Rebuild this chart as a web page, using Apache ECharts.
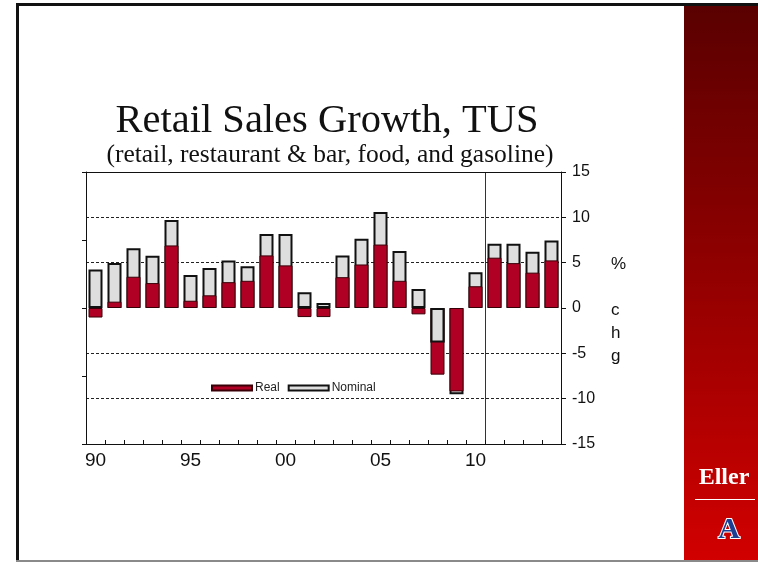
<!DOCTYPE html>
<html>
<head>
<meta charset="utf-8">
<script src="https://cdn.jsdelivr.net/npm/echarts@6/dist/echarts.min.js"></script>
<style>
html,body{margin:0;padding:0;background:#fff;}
#chart{width:758px;height:562px;}
</style>
</head>
<body>
<div id="chart"></div>
<script>
// ---- data ----
var years = ['1990','1991','1992','1993','1994','1995','1996','1997','1998','1999','2000','2001','2002','2003','2004','2005','2006','2007','2008','2009','2010','2011','2012','2013','2014'];
var realGrowth    = [-1.05, 0.7, 3.45, 2.75, 6.9, 0.8, 1.4, 2.85, 3.0, 5.8, 4.7, -1.0, -1.0, 3.4, 4.8, 7.0, 3.0, -0.7, -7.35, -9.2, 2.4, 5.55, 4.95, 3.9, 5.25];
var nominalGrowth = [4.25, 4.95, 6.6, 5.75, 9.7, 3.65, 4.4, 5.25, 4.6, 8.15, 8.15, 1.75, 0.55, 5.8, 7.65, 10.6, 6.3, 2.1, -3.8, -9.5, 3.95, 7.1, 7.1, 6.2, 7.45];
var forecastStartIndex = 21; // 2011 onward separated by a vertical line
var yTicks = {min: -15, max: 15, step: 5};
var titleText = 'Retail Sales Growth, TUS';
var subtitleText = '(retail, restaurant & bar, food, and gasoline)';
var unitLabel = ['%', '', 'c', 'h', 'g'];

// nominal values that lie inside a larger real bar of the same sign are drawn in front
var nominalFront = nominalGrowth.map(function (v, i) {
  var r = realGrowth[i];
  return (v * r > 0 && Math.abs(v) < Math.abs(r)) ? v : '-';
});

var RED = '#b00024';
var GRAY = '#dedede';

var chart = echarts.init(document.getElementById('chart'));
var splitColors = [];
for (var t = yTicks.min; t <= yTicks.max; t += yTicks.step) {
  splitColors.push((t === 0 || t === yTicks.min || t === yTicks.max) ? 'rgba(0,0,0,0)' : '#222');
}

chart.setOption({
  backgroundColor: '#fff',
  animation: false,
  title: [
    {text: titleText, left: 322, top: 96, textAlign: 'center',
     textStyle: {fontFamily: 'Liberation Serif', fontSize: 40.5, fontWeight: 'normal', color: '#111'}},
    {text: subtitleText, left: 325, top: 137, textAlign: 'center',
     textStyle: {fontFamily: 'Liberation Serif', fontSize: 25.5, fontWeight: 'normal', color: '#111'}}
  ],
  legend: {
    left: 206, top: 377,
    itemWidth: 40, itemHeight: 5, itemGap: 8,
    icon: 'rect',
    data: ['Real', 'Nominal'],
    textStyle: {fontFamily: 'Liberation Sans', fontSize: 12, color: '#222', padding: [0, 0, 0, -2]}
  },
  grid: {left: 86, right: 197, top: 172, bottom: 118, containLabel: false},
  xAxis: [
    {
      type: 'category', data: years, position: 'bottom',
      axisLine: {show: true, onZero: false, lineStyle: {color: '#111', width: 1}},
      axisTick: {show: true, inside: true, length: 4, interval: 0, lineStyle: {color: '#111'}},
      axisLabel: {interval: 4, margin: 7, fontFamily: 'Liberation Sans', fontSize: 19, color: '#111',
                  formatter: function (v) { return v.slice(2); }},
      splitLine: {show: false}
    },
    {
      type: 'category', data: years, position: 'top',
      axisLine: {show: true, onZero: false, lineStyle: {color: '#111', width: 1}},
      axisTick: {show: false}, axisLabel: {show: false}, splitLine: {show: false}
    },
    {
      // hidden index axis used only to place the forecast divider between categories
      type: 'value', position: 'bottom', min: 0, max: years.length, interval: forecastStartIndex,
      axisLine: {show: false}, axisTick: {show: false}, axisLabel: {show: false},
      splitLine: {show: true, lineStyle: {color: '#333', width: 1}}
    }
  ],
  yAxis: [
    {
      type: 'value', position: 'right', min: yTicks.min, max: yTicks.max, interval: yTicks.step,
      axisLine: {show: true, onZero: false, lineStyle: {color: '#111', width: 1}},
      axisTick: {show: true, inside: false, length: 5, lineStyle: {color: '#111'}},
      axisLabel: {margin: 11, fontFamily: 'Liberation Sans', fontSize: 16, color: '#111'},
      splitLine: {show: true, lineStyle: {type: [3, 2], color: splitColors, width: 1}}
    },
    {
      type: 'value', position: 'left', min: yTicks.min, max: yTicks.max, interval: 7.5,
      axisLine: {show: true, onZero: false, lineStyle: {color: '#111', width: 1}},
      axisTick: {show: true, inside: false, length: 4, lineStyle: {color: '#111'}},
      axisLabel: {show: false}, splitLine: {show: false}
    }
  ],
  series: [
    {
      name: 'Nominal', type: 'bar', data: nominalGrowth, barWidth: 14, barGap: '-100%',
      itemStyle: {color: GRAY, borderColor: '#111', borderWidth: 2}
    },
    {
      name: 'Real', type: 'bar', data: realGrowth, barWidth: 14, barGap: '-100%',
      itemStyle: {color: RED, borderColor: '#3a0008', borderWidth: 1}
    },
    {
      name: 'NominalFront', type: 'bar', data: nominalFront, barWidth: 14, barGap: '-100%',
      itemStyle: {color: GRAY, borderColor: '#111', borderWidth: 2}
    }
  ],
  graphic: [
    {type: 'rect', shape: {x: 684, y: 5, width: 74, height: 557},
     style: {fill: new echarts.graphic.LinearGradient(0, 0, 0, 1, [
       {offset: 0, color: '#5a0000'}, {offset: 0.5, color: '#940000'}, {offset: 1, color: '#d20000'}])}},
    {type: 'rect', shape: {x: 16, y: 3, width: 742, height: 3}, style: {fill: '#111'}},
    {type: 'rect', shape: {x: 16, y: 3, width: 3, height: 558}, style: {fill: '#111'}},
    {type: 'rect', shape: {x: 16, y: 560, width: 742, height: 2}, style: {fill: '#8a8a8a'}},
    {type: 'text', left: 611, top: 253, style: {text: unitLabel.join('\n'), fontFamily: 'Liberation Sans', fontSize: 17,
      lineHeight: 23, fill: '#111', align: 'center', verticalAlign: 'top'}},
    {type: 'text', x: 724, y: 478, style: {text: 'Eller', fontFamily: 'Liberation Serif', fontWeight: 'bold',
      fontSize: 24, fill: '#fff', align: 'center', verticalAlign: 'middle',
      textShadowColor: '#3b4f9a', textShadowOffsetX: 1, textShadowOffsetY: 1, textShadowBlur: 0}},
    {type: 'rect', shape: {x: 695, y: 499, width: 60, height: 1}, style: {fill: '#fff'}},
    {type: 'text', x: 729, y: 530, style: {text: 'A', fontFamily: 'Liberation Serif', fontWeight: 'bold',
      fontSize: 30, fill: '#1c3f94', stroke: '#fff', lineWidth: 2, align: 'center', verticalAlign: 'middle'}}
  ]
});
</script>
</body>
</html>
